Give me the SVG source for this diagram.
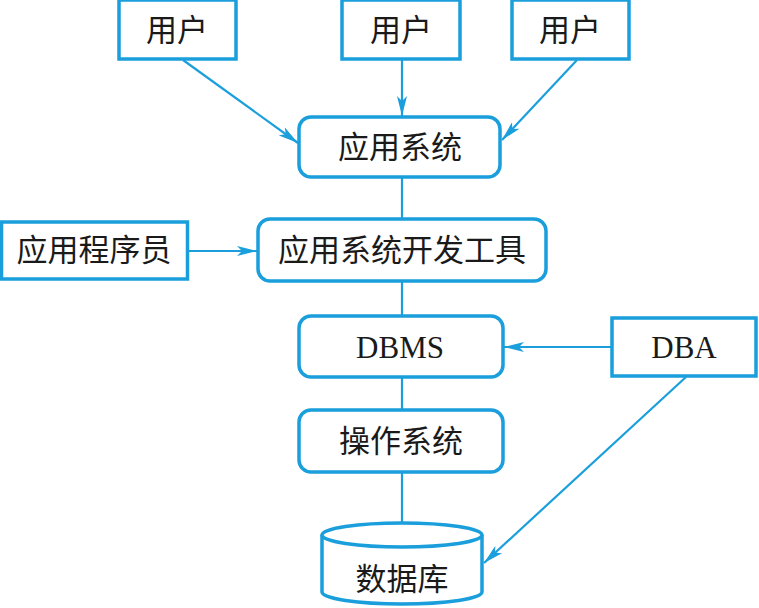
<svg xmlns="http://www.w3.org/2000/svg" width="759" height="608" viewBox="0 0 759 608">
<defs>
<style>
.b{fill:#fff;stroke:#1a9fdc;stroke-width:3.5}
.l{fill:none;stroke:#1a9fdc;stroke-width:2.2}
.t{font-family:"Noto Sans CJK SC",sans-serif;font-size:31px;fill:#1a1a1a;text-anchor:middle}
.e{font-family:"Liberation Serif",serif;font-size:31px;fill:#1a1a1a;text-anchor:middle}
</style>
<marker id="a" viewBox="0 0 20 10" refX="20" refY="5" markerWidth="20" markerHeight="10" markerUnits="userSpaceOnUse" orient="auto">
<path d="M0,0 L20,5 L0,10 L5,5 Z" fill="#1a9fdc"/>
</marker>
</defs>
<g id="connectors">
<line class="l" x1="183" y1="60" x2="298" y2="143" marker-end="url(#a)"/>
<line class="l" x1="402" y1="60" x2="402" y2="116" marker-end="url(#a)"/>
<line class="l" x1="577" y1="60" x2="502" y2="140" marker-end="url(#a)"/>
<line class="l" x1="402" y1="178" x2="402" y2="219"/>
<line class="l" x1="188" y1="251" x2="257" y2="251" marker-end="url(#a)"/>
<line class="l" x1="402" y1="282" x2="402" y2="316"/>
<line class="l" x1="612" y1="347" x2="504" y2="347" marker-end="url(#a)"/>
<line class="l" x1="402" y1="377" x2="402" y2="409"/>
<line class="l" x1="402" y1="472" x2="402" y2="523"/>
<line class="l" x1="686" y1="377" x2="484" y2="563" marker-end="url(#a)"/>
</g>
<g id="user1"><rect class="b" x="119" y="0" width="117" height="59"/><text class="t" x="177" y="41">用户</text></g>
<g id="user2"><rect class="b" x="342" y="0" width="118" height="59"/><text class="t" x="401" y="41">用户</text></g>
<g id="user3"><rect class="b" x="512" y="0" width="117" height="59"/><text class="t" x="570" y="41">用户</text></g>
<g id="app"><rect class="b" x="299" y="117" width="201" height="60" rx="12"/><text class="t" x="400" y="158">应用系统</text></g>
<g id="programmer"><rect class="b" x="1.5" y="222" width="186" height="57"/><text class="t" x="94" y="261">应用程序员</text></g>
<g id="devtool"><rect class="b" x="258" y="219" width="288" height="62" rx="12"/><text class="t" x="402" y="261">应用系统开发工具</text></g>
<g id="dbms"><rect class="b" x="299" y="316" width="204" height="61" rx="12"/><text class="e" x="400" y="358">DBMS</text></g>
<g id="dba"><rect class="b" x="612" y="318" width="144" height="58"/><text class="e" x="684" y="358">DBA</text></g>
<g id="os"><rect class="b" x="299" y="410" width="204" height="62" rx="12"/><text class="t" x="401" y="452">操作系统</text></g>
<g id="db">
<path class="b" d="M322,535 A80,12 0 0 1 482,535 L482,592 A80,12 0 0 1 322,592 Z"/>
<path class="b" fill="none" d="M322,535 A80,12 0 0 0 482,535"/>
<text class="t" x="402" y="590">数据库</text>
</g>
</svg>
